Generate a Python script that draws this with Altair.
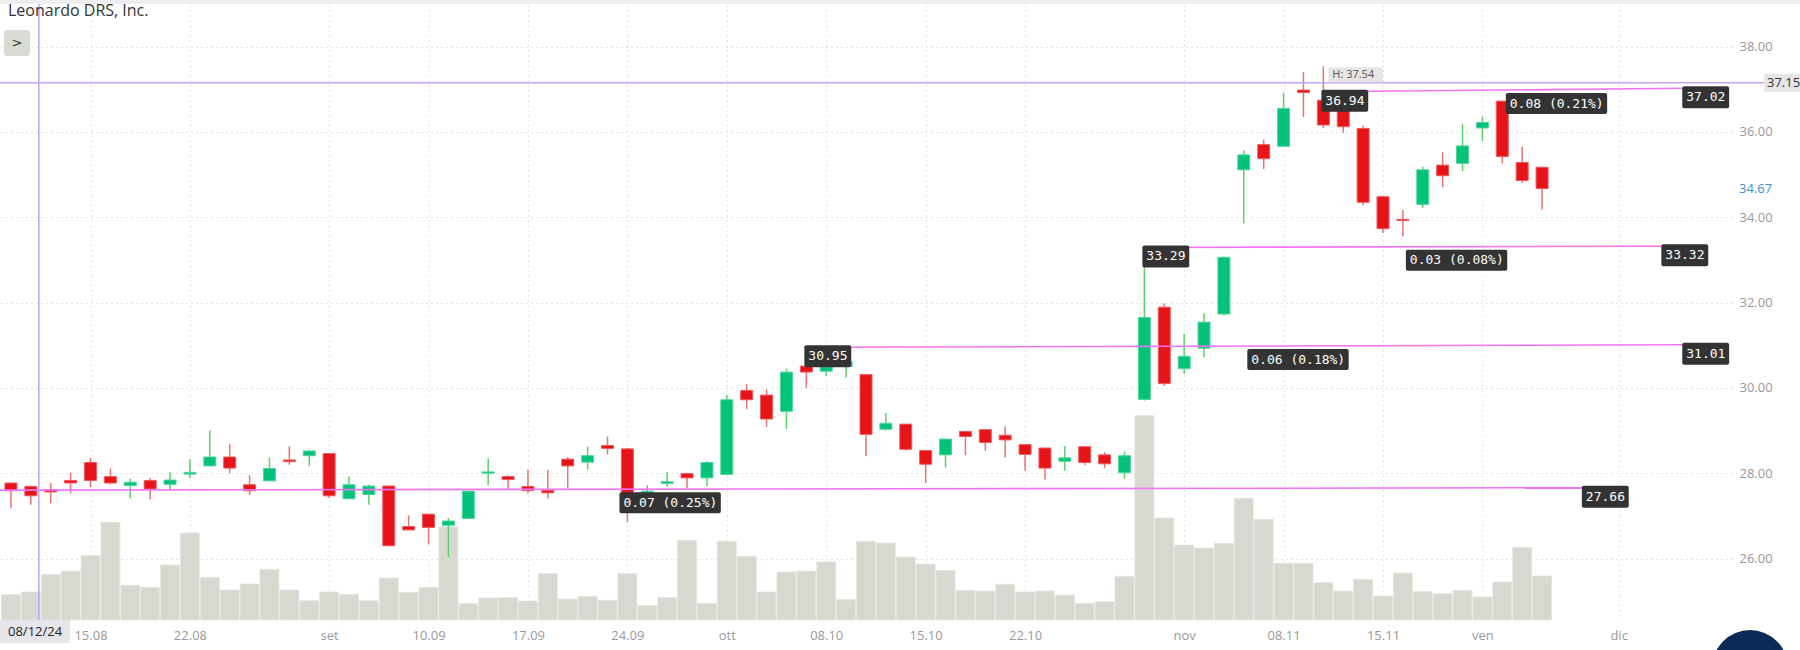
import altair as alt
import pandas as pd

TITLE = "Leonardo DRS, Inc."

# daily candles, 9 Aug 2024 .. 27 Nov 2024 (index 0..77)
OPEN = [27.77, 27.69, 27.61, 27.83, 28.25, 27.92, 27.71, 27.83, 27.74, 27.98,
        28.17, 28.38, 27.73, 27.82, 28.31, 28.41, 28.46, 27.40, 27.50, 27.70,
        26.75, 27.04, 26.78, 26.94, 28.00, 27.92, 27.69, 27.60, 28.33, 28.26,
        28.65, 28.57, 27.53, 27.76, 27.99, 27.89, 27.97, 29.94, 29.83, 29.45,
        30.51, 30.39, 30.50, 30.31, 29.03, 29.15, 28.53, 28.43, 28.98, 29.02,
        28.89, 28.67, 28.59, 28.28, 28.62, 28.43, 28.01, 29.73, 31.89, 30.45,
        30.93, 31.73, 35.11, 35.70, 35.66, 36.98, 36.74, 36.55, 36.08, 34.48,
        33.95, 34.30, 35.22, 35.26, 36.09, 36.72, 35.28, 35.17]
HIGH = [27.78, 27.71, 27.77, 28.01, 28.36, 28.11, 27.87, 27.89, 28.02, 28.33,
        29.00, 28.69, 27.95, 28.36, 28.63, 28.55, 28.47, 27.92, 27.73, 27.70,
        27.01, 27.04, 26.95, 27.58, 28.35, 27.95, 28.08, 28.08, 28.38, 28.62,
        28.86, 28.59, 27.72, 28.03, 27.99, 28.28, 29.83, 30.09, 29.96, 30.45,
        30.62, 30.60, 30.70, 30.31, 29.41, 29.15, 28.53, 28.80, 28.98, 29.02,
        29.10, 28.67, 28.59, 28.64, 28.64, 28.49, 28.51, 33.29, 31.98, 31.27,
        31.75, 33.08, 35.56, 35.82, 36.92, 37.40, 37.54, 36.60, 36.14, 34.50,
        34.17, 35.18, 35.52, 36.19, 36.35, 36.72, 35.65, 35.17]
LOW = [27.18, 27.26, 27.30, 27.53, 27.67, 27.74, 27.41, 27.39, 27.62, 27.88,
       28.17, 28.00, 27.49, 27.82, 28.20, 28.16, 27.42, 27.40, 27.26, 26.30,
       26.67, 26.33, 26.03, 26.94, 27.72, 27.62, 27.53, 27.41, 27.65, 28.09,
       28.44, 26.85, 27.50, 27.68, 27.64, 27.70, 27.97, 29.50, 29.09, 29.04,
       30.00, 30.28, 30.24, 28.40, 29.00, 28.53, 27.77, 28.13, 28.42, 28.53,
       28.37, 28.06, 27.85, 28.06, 28.19, 28.12, 27.87, 29.70, 30.05, 30.33,
       30.72, 31.70, 33.86, 35.13, 35.64, 36.35, 36.09, 35.98, 34.28, 33.63,
       33.55, 34.22, 34.70, 35.08, 35.79, 35.26, 34.80, 34.18]
CLOSE = [27.59, 27.47, 27.56, 27.77, 27.83, 27.77, 27.79, 27.63, 27.84, 28.02,
         28.38, 28.12, 27.59, 28.11, 28.27, 28.52, 27.47, 27.73, 27.70, 26.30,
         26.67, 26.73, 26.88, 27.58, 28.03, 27.85, 27.59, 27.54, 28.17, 28.41,
         28.58, 27.10, 27.58, 27.80, 27.89, 28.25, 29.72, 29.72, 29.27, 30.37,
         30.37, 30.49, 30.62, 28.91, 29.17, 28.56, 28.21, 28.80, 28.86, 28.72,
         28.78, 28.44, 28.12, 28.36, 28.25, 28.22, 28.41, 31.65, 30.10, 30.74,
         31.54, 33.06, 35.46, 35.37, 36.55, 36.92, 36.16, 36.12, 34.35, 33.73,
         33.92, 35.11, 34.97, 35.67, 36.22, 35.42, 34.86, 34.67]
VOLUME_K = [380, 420, 685, 735, 970, 1465, 520, 490, 825, 1305,
            640, 450, 540, 760, 450, 290, 420, 385, 290, 630,
            415, 490, 1400, 245, 330, 335, 285, 695, 315, 355,
            295, 695, 215, 335, 1195, 250, 1180, 955, 420, 720,
            735, 870, 305, 1180, 1155, 945, 840, 745, 445, 435,
            535, 420, 435, 375, 250, 275, 655, 3065, 1530, 1125,
            1080, 1150, 1825, 1510, 850, 850, 560, 435, 610, 360,
            705, 425, 395, 445, 345, 570, 1090, 660]

TICK_POS = [4, 9, 16, 21, 26, 31, 36, 41, 46, 51, 59, 64, 69, 74, 80.85]
TICK_LABELS = ["15.08", "22.08", "set", "10.09", "17.09", "24.09", "ott", "08.10",
               "15.10", "22.10", "nov", "08.11", "15.11", "ven", "dic"]
PRICE_TICKS = [26, 28, 30, 32, 34, 36, 38]

# drawn trend lines (start index, start price, end index, end price)
LINE_X0 = [40, 57, 66, -18.1]
LINE_P0 = [30.95, 33.29, 36.94, 27.59]
LINE_X1 = [84.15, 83.1, 84.15, 79.1]
LINE_P1 = [31.01, 33.32, 37.02, 27.66]
LINE_DELTA = ["0.06 (0.18%)", "0.03 (0.08%)", "0.08 (0.21%)", "0.07 (0.25%)"]

CROSS_IDX = 1.4
CROSS_PRICE = 37.15
CROSS_DATE = "08/12/24"

# ---------------- layout ----------------
W, H = 1732, 620
PXI = 20.0      # px per bar
PXP = 42.67     # px per price unit
X0 = -0.3
X1 = X0 + W / PXI
P_TOP = 38 + 46.5 / PXP
P_BOT = P_TOP - H / PXP
CH = 7.83       # mono char width at 13px
LBL_X = 1764    # crosshair price tag left edge

RED, GREEN = "#e61318", "#05c27a"
RED_W, GREEN_W = "#e87474", "#5cd06a"
RED_S, GREEN_S = "#ee5a5e", "#4fd69c"
MAG = "#f472f4"
LAV = "#c4a6f6"
GRID = "#c9c9c9"
AX_COL = "#9a9a9a"

xscale = alt.Scale(domain=[X0, X1], nice=False, zero=False)
yscale = alt.Scale(domain=[P_BOT, P_TOP], nice=False, zero=False)
vscale = alt.Scale(domain=[0, H * 15], nice=False, zero=True)

label_js = "[" + ",".join(f"'{t}'" for t in TICK_LABELS) + "]"
pos_js = "[" + ",".join(str(p) for p in TICK_POS) + "]"
XAX = alt.Axis(orient="bottom", values=TICK_POS, labelExpr=f"{label_js}[indexof({pos_js}, datum.value)]",
               domain=False, ticks=False, grid=True, gridDash=[1, 4], gridColor=GRID, gridWidth=1,
               labelColor=AX_COL, labelFont="Open Sans", labelFontSize=13, labelPadding=9,
               labelFlush=False, title=None)
YAX = alt.Axis(orient="right", values=PRICE_TICKS, format=".2f", domain=False, ticks=False,
               grid=True, gridDash=[1, 4], gridColor=GRID, gridWidth=1, labelColor=AX_COL,
               labelFont="Open Sans", labelFontSize=13, labelPadding=7, labelAlign="left",
               labelBaseline="middle", title=None)


def X(f):
    return alt.X(f, type="quantitative", scale=xscale, axis=XAX)


def Y(f):
    return alt.Y(f, type="quantitative", scale=yscale, axis=YAX)


df = pd.DataFrame({"i": range(len(OPEN)), "open": OPEN, "high": HIGH, "low": LOW,
                   "close": CLOSE, "vol": VOLUME_K})
up = "datum.close >= datum.open"

volume = alt.Chart(df).mark_bar(size=19, color="#d7d9d1", stroke="#e4e5df", strokeWidth=0.8).encode(
    x=X("i"), y=alt.Y("vol:Q", scale=vscale, axis=None))

wicks = alt.Chart(df).mark_rule(strokeWidth=1.5).encode(
    x=X("i"), y=Y("low"), y2="high",
    color=alt.condition(up, alt.value(GREEN_W), alt.value(RED_W)))

bodies = alt.Chart(df).mark_bar(size=12, strokeWidth=1).encode(
    x=X("i"), y=Y("open"), y2="close",
    color=alt.condition(up, alt.value(GREEN), alt.value(RED)),
    stroke=alt.condition(up, alt.value(GREEN_S), alt.value(RED_S)))

lines_df = pd.DataFrame({"x0": LINE_X0, "p0": LINE_P0, "x1": LINE_X1, "p1": LINE_P1})
tlines = alt.Chart(lines_df).mark_rule(color=MAG, strokeWidth=1.6, clip=True).encode(
    x=X("x0"), x2="x1", y=Y("p0"), y2="p1")

rows = []
for x0, p0, x1, p1, dl in zip(LINE_X0, LINE_P0, LINE_X1, LINE_P1, LINE_DELTA):
    for xa, pa in [(x0, p0), (x1, p1)]:
        if xa < X0:
            continue  # anchor scrolled off the left edge
        t = f"{pa:.2f}"
        w = len(t) * CH + 8
        left = xa - 2 / PXI
        top = pa + 2 / PXP
        rows.append(dict(bx=left, bx2=left + w / PXI, by=top, by2=top - 22 / PXP,
                         tx=left + 4 / PXI, ty=top - 11 / PXP, text=t))
    xm, pm = (x0 + x1) / 2, (p0 + p1) / 2
    w = len(dl) * CH + 8
    left = xm + 2 / PXI
    top = pm - 3 / PXP
    rows.append(dict(bx=left, bx2=left + w / PXI, by=top, by2=top - 21 / PXP,
                     tx=left + 4 / PXI, ty=top - 10.5 / PXP, text=dl))
boxes_df = pd.DataFrame(rows)

boxes = alt.Chart(boxes_df).mark_rect(color="#333333", cornerRadius=2).encode(
    x=X("bx"), x2="bx2", y=Y("by"), y2="by2")
box_text = alt.Chart(boxes_df).mark_text(align="left", baseline="middle", color="white",
                                         font="DejaVu Sans Mono", fontSize=13).encode(
    x=X("tx"), y=Y("ty"), text="text:N")

# high label
hi_i = max(range(len(HIGH)), key=lambda k: HIGH[k])
hi_df = pd.DataFrame({"bx": [hi_i + 5 / PXI], "bx2": [hi_i + 60 / PXI],
                      "by": [HIGH[hi_i] - 1 / PXP], "by2": [HIGH[hi_i] - 16 / PXP],
                      "tx": [hi_i + 9 / PXI], "ty": [HIGH[hi_i] - 8.5 / PXP],
                      "text": [f"H: {HIGH[hi_i]:.2f}"]})
hi_box = alt.Chart(hi_df).mark_rect(color="#e6e6e6", cornerRadius=2).encode(
    x=X("bx"), x2="bx2", y=Y("by"), y2="by2")
hi_txt = alt.Chart(hi_df).mark_text(align="left", baseline="middle", color="#555555",
                                    font="Open Sans", fontSize=11).encode(
    x=X("tx"), y=Y("ty"), text="text:N")

one = pd.DataFrame({"a": [0]})
cross_h = alt.Chart(one).mark_rule(color=LAV, strokeWidth=1.6).encode(
    y=alt.Y(datum=CROSS_PRICE, type="quantitative", scale=yscale, axis=YAX),
    x=alt.value(0), x2=alt.value(LBL_X))
cross_v = alt.Chart(one).mark_rule(color=LAV, strokeWidth=1.6).encode(
    x=alt.X(datum=CROSS_IDX, type="quantitative", scale=xscale, axis=XAX),
    y=alt.value(4), y2=alt.value(H))
cross_box = alt.Chart(one).mark_rect(color="#e6e6e6").encode(
    y=alt.Y(datum=CROSS_PRICE + 9 / PXP, type="quantitative", scale=yscale, axis=YAX),
    y2=alt.datum(CROSS_PRICE - 9 / PXP), x=alt.value(LBL_X), x2=alt.value(LBL_X + 40))
cross_txt = alt.Chart(one).mark_text(align="left", baseline="middle", color="#333333",
                                     font="Open Sans", fontSize=13).encode(
    y=alt.Y(datum=CROSS_PRICE, type="quantitative", scale=yscale, axis=YAX),
    x=alt.value(LBL_X + 3), text=alt.value(f"{CROSS_PRICE:.2f}"))
last_txt = alt.Chart(one).mark_text(align="left", baseline="middle", color="#3b90d0",
                                    font="Open Sans", fontSize=13).encode(
    y=alt.Y(datum=CLOSE[-1], type="quantitative", scale=yscale, axis=YAX),
    x=alt.value(W + 7), text=alt.value(f"{CLOSE[-1]:.2f}"))

price = alt.layer(wicks, bodies, tlines, cross_h, cross_v, boxes, box_text, hi_box, hi_txt,
                  cross_box, cross_txt, last_txt)

# decorations (UI chrome)
title_t = alt.Chart(one).mark_text(align="left", baseline="alphabetic", color="#333333",
                                   font="Open Sans", fontSize=16).encode(
    x=alt.value(8), y=alt.value(16), text=alt.value(TITLE))
top_strip = alt.Chart(one).mark_rect(color="#eeeeee").encode(
    x=alt.value(0), x2=alt.value(1800), y=alt.value(0), y2=alt.value(4))
btn = alt.Chart(one).mark_rect(color="#d9dcd3", cornerRadius=3).encode(
    x=alt.value(4), x2=alt.value(30), y=alt.value(30), y2=alt.value(56))
btn_t = alt.Chart(one).mark_text(color="#333333", font="DejaVu Sans", fontSize=13).encode(
    x=alt.value(17), y=alt.value(43), text=alt.value(">"))
date_box = alt.Chart(one).mark_rect(color="#e6e6ea").encode(
    x=alt.value(0), x2=alt.value(70), y=alt.value(H), y2=alt.value(H + 23))
date_t = alt.Chart(one).mark_text(align="left", baseline="middle", color="#222222",
                                  font="Open Sans", fontSize=13).encode(
    x=alt.value(8), y=alt.value(H + 12), text=alt.value(CROSS_DATE))
circle = alt.Chart(one).mark_point(filled=True, shape="circle", size=5776, color="#0b2b56", opacity=1).encode(
    x=alt.value(1750), y=alt.value(668))
decor = alt.layer(title_t, top_strip, btn, btn_t, date_box, date_t, circle)

chart = alt.layer(volume, price, decor).resolve_scale(y="independent").properties(
    width=W, height=H,
    autosize=alt.AutoSizeParams(type="none"),
    padding={"left": 0, "top": 0, "right": 1800 - W, "bottom": 650 - H},
    background="white",
).configure_view(strokeWidth=0)

chart.save("out.html", embed_options={"renderer": "svg", "actions": False})
